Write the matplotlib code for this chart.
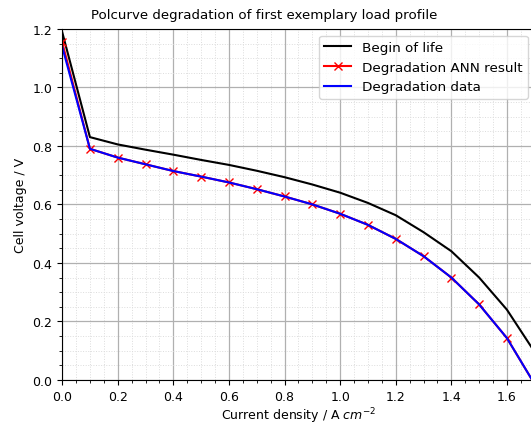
import numpy as np
import matplotlib
matplotlib.use("Agg")
import matplotlib.pyplot as plt
from matplotlib.ticker import MultipleLocator

current = [0.0, 0.1, 0.2, 0.3, 0.4, 0.5, 0.6, 0.7, 0.8, 0.9,
           1.0, 1.1, 1.2, 1.3, 1.4, 1.5, 1.6, 1.7]
bol = [1.19, 0.83, 0.805, 0.787, 0.77, 0.752, 0.735, 0.715, 0.693, 0.668,
       0.64, 0.605, 0.563, 0.505, 0.44, 0.35, 0.24, 0.095]
ann = [1.155, 0.79, 0.76, 0.737, 0.714, 0.695, 0.675, 0.652, 0.627, 0.6,
       0.568, 0.53, 0.482, 0.423, 0.35, 0.258, 0.143, -0.015]
data = [1.14, 0.79, 0.76, 0.737, 0.714, 0.695, 0.675, 0.652, 0.627, 0.6,
        0.568, 0.53, 0.482, 0.423, 0.35, 0.258, 0.143, -0.015]

fig = plt.figure(figsize=(5.31, 4.27), dpi=100)
ax = fig.add_axes([0.117, 0.108, 0.89, 0.822])

ax.plot(current, bol, color="black", label="Begin of life")
ax.plot(current, ann, color="red", marker="x", label="Degradation ANN result")
ax.plot(current, data, color="blue", label="Degradation data")

ax.set_xlim(0, 1.7)
ax.set_ylim(0, 1.2)
ax.xaxis.set_major_locator(MultipleLocator(0.2))
ax.xaxis.set_minor_locator(MultipleLocator(0.05))
ax.yaxis.set_major_locator(MultipleLocator(0.2))
ax.yaxis.set_minor_locator(MultipleLocator(0.05))
ax.grid(which="major", color="#b0b0b0", linewidth=0.9)
ax.grid(which="minor", color="#dcdcdc", linestyle=":", linewidth=0.7)
ax.tick_params(labelsize=9)

ax.set_xlabel("Current density / A $cm^{-2}$", fontsize=9, labelpad=2)
ax.set_ylabel("Cell voltage / V", fontsize=9)
# title sits centred on the original (uncropped) figure, not on the axes
ax.set_title("Polcurve degradation of first exemplary load profile",
             fontsize=9.6, x=(264 / 531 - 0.117) / 0.89, pad=8)
ax.legend(loc="upper right", fontsize=9.7)

fig.savefig("out.png", dpi=100)
